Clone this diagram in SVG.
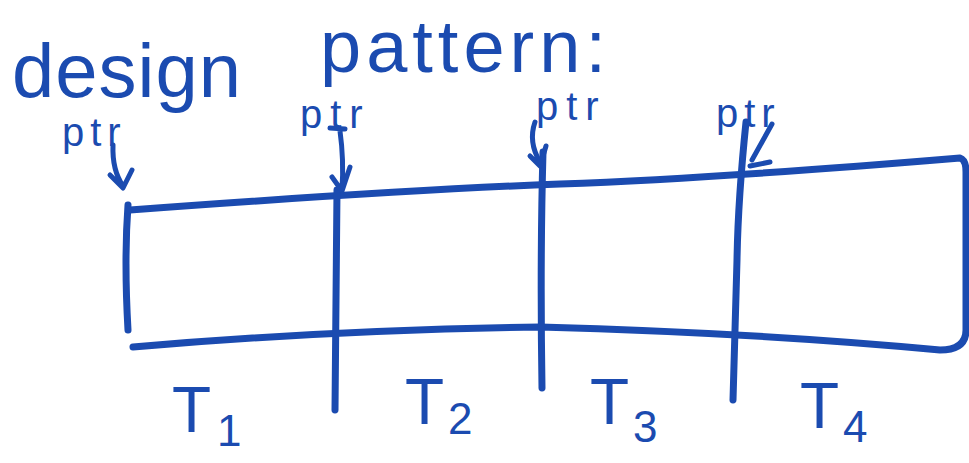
<svg xmlns="http://www.w3.org/2000/svg" width="969" height="463" viewBox="0 0 969 463">
<style>
.s{fill:none;stroke:#1b4bb0;stroke-width:7;stroke-linecap:round;stroke-linejoin:round}
.a{fill:none;stroke:#1b4bb0;stroke-width:5;stroke-linecap:round;stroke-linejoin:round}
.t{fill:#1b4bb0;font-family:"Liberation Sans","DejaVu Sans",sans-serif}
</style>
<rect width="969" height="463" fill="#fff"/>
<g id="title">
<text class="t" x="12" y="97" font-size="76" letter-spacing="1">design</text>
<text class="t" x="320" y="72" font-size="74" letter-spacing="5">pattern:</text>
</g>
<g id="strip">
<path class="s" d="M130,210 Q400,190 560,184 T960,158 Q966,160 966,172 L966,330 Q966,350 940,350 Q760,333 540,327 Q330,330 133,347"/>
<path class="s" d="M128,205 Q124,260 128,330"/>
<path class="s" d="M337,190 L335,410"/>
<path class="s" d="M543,152 Q540,260 542,388"/>
<path class="s" d="M746,122 Q738,200 737,260 L733,400"/>
</g>
<g id="pointers">
<text class="t" x="62" y="146" font-size="40" letter-spacing="6">ptr</text>
<text class="t" x="300" y="128" font-size="40" letter-spacing="8">ptr</text>
<text class="t" x="536" y="120" font-size="40" letter-spacing="8">ptr</text>
<text class="t" x="716" y="127" font-size="40" letter-spacing="6">ptr</text>
<path class="a" d="M113,145 Q112,170 123,186 M110,175 L123,188 L132,170"/>
<path class="a" d="M330,128 L345,129 M340,131 Q344,160 342,190 M332,177 L342,191 L350,167"/>
<path class="a" d="M535,122 Q528,142 540,162 M530,156 L540,166 L546,146"/>
<path class="a" d="M772,124 L752,160 M750,166 L770,162"/>
</g>
<g id="labels">
<text class="t" x="172" y="432" font-size="64">T<tspan font-size="44" dx="6" dy="14">1</tspan></text>
<text class="t" x="405" y="424" font-size="64">T<tspan font-size="44" dx="4" dy="10">2</tspan></text>
<text class="t" x="590" y="424" font-size="64">T<tspan font-size="44" dx="4" dy="18">3</tspan></text>
<text class="t" x="800" y="428" font-size="64">T<tspan font-size="44" dx="4" dy="14">4</tspan></text>
</g>
</svg>
